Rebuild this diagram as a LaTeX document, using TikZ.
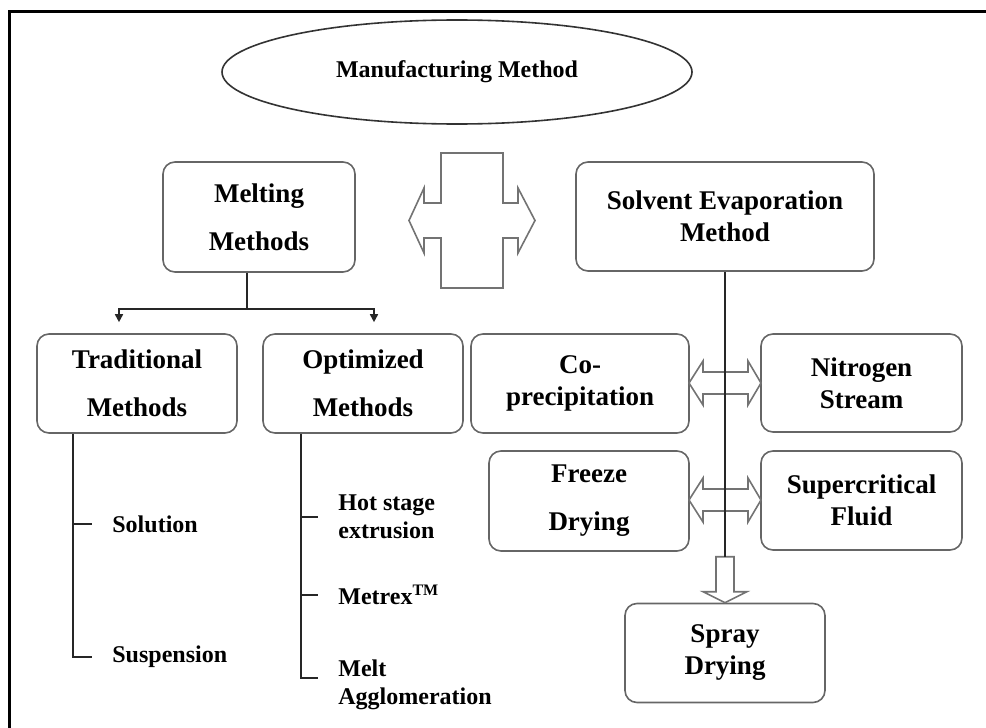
\documentclass[tikz,border=0pt]{standalone}
\usepackage{fontspec}
\setmainfont{Liberation Serif}
\usetikzlibrary{shapes,calc,arrows.meta}

\begin{document}
\begin{tikzpicture}[x=0.5pt,y=-0.5pt,
	box/.style={draw=black!60, line width=0.8pt, rounded corners=6pt, align=center, inner sep=0pt, font=\bfseries\fontsize{13.5}{24}\selectfont},
	tbox/.style={box, font=\bfseries\fontsize{13.5}{16}\selectfont},
	ell/.style={ellipse, draw=black!80, line width=0.8pt, minimum width=235pt, minimum height=52pt, font=\bfseries\fontsize{12}{14}\selectfont},
	leaf/.style={anchor=west, inner sep=0pt, align=left, font=\bfseries\fontsize{12}{14}\selectfont},
	stem/.style={black!85, line width=0.8pt},
	tick/.style={stem, shorten >=10pt},
	hollow/.style={draw=black!55, fill=white, line width=0.8pt},
	tip/.style={stem, -{Triangle[length=4pt,width=4pt]}}]
		\useasboundingbox (0,0) rectangle (986,728);
		\draw[line width=1.5pt] (9.5,728) -- (9.5,11) -- (986,11);

		\node[ell] (manu) at (457,72) {Manufacturing Method};

		\node[box, minimum width=96pt, minimum height=55pt] (melt) at (259,217) {Melting\\Methods};
		\node[tbox, minimum width=149pt, minimum height=54.5pt] (solv) at (725,216.5) {Solvent Evaporation\\Method};

		% cross shaped double arrow
		\draw[hollow] (441,153) -- (503,153) -- (503,203) -- (518,203) -- (518,188) -- (535,220.5)
			-- (518,253) -- (518,238) -- (503,238) -- (503,288) -- (441,288) -- (441,238)
			-- (424,238) -- (424,253) -- (409,220.5) -- (424,188) -- (424,203) -- (441,203) -- cycle;

		\node[box, minimum width=100pt, minimum height=49.5pt] (trad) at (137,383.5) {Traditional\\Methods};
		\node[box, minimum width=100pt, minimum height=49.5pt] (opt) at (363,383.5) {Optimized\\Methods};

		\coordinate (fork) at ($(melt.south)+(-12,36)$);
		\coordinate (ta) at ($(trad.north)+(-18,-11)$);
		\coordinate (oa) at ($(opt.north)+(11,-11)$);
		\draw[stem] ($(melt.south)+(-12,0)$) -- (fork);
		\draw[tip] (fork) -| (ta);
		\draw[tip] (fork) -| (oa);

		\node[tbox, minimum width=109pt, minimum height=49.5pt] (copre) at (580,383.5) {Co-\\precipitation};
		\node[tbox, minimum width=100.5pt, minimum height=49pt] (nitro) at (861.5,383) {Nitrogen\\Stream};
		\node[box, minimum width=100pt, minimum height=50pt] (freeze) at (589,501) {Freeze\\Drying};
		\node[tbox, minimum width=100.5pt, minimum height=49.5pt] (super) at (861.5,500.5) {Supercritical\\Fluid};
		\node[tbox, minimum width=100pt, minimum height=49.5pt] (spray) at (725,653) {Spray\\Drying};

		% hollow arrows on the solvent side
		\foreach \y in {383,500}
			\draw[hollow] (689,\y) -- (703,\y-22) -- (703,\y-11) -- (748,\y-11) -- (748,\y-22) -- (761,\y)
				-- (748,\y+22) -- (748,\y+11) -- (703,\y+11) -- (703,\y+22) -- cycle;
		\draw[hollow] (spray.north) -- ++(-22,-11) -- ++(13,0) -- ++(0,-35) -- ++(18,0) -- ++(0,35) -- ++(13,0) -- cycle;
		\coordinate (dtop) at ($(spray.north)+(0,-46)$);
		\draw[stem] (solv.south) -- (dtop);

		% leaves
		\node[leaf] (soln) at (112,524) {Solution};
		\node[leaf] (susp) at (112,657) {Suspension};
		\node[leaf] (hot) at (338,517) {Hot stage\\extrusion};
		\node[leaf] (metrex) at (338,595) {Metrex\textsuperscript{TM}};
		\node[leaf] (agglo) at (338,685) {Melt\\Agglomeration};

		\coordinate (tl) at ($(trad.south)+(-64,0)$);
		\coordinate (ol) at ($(opt.south)+(-62,0)$);
		\draw[tick] (tl) |- (susp.west);
		\draw[tick] (soln.west -| tl) -- (soln.west);
		\draw[tick] (ol) |- ($(agglo.west)+(0,-7)$);
		\foreach \n in {hot,metrex}
			\draw[tick] (\n.west -| ol) -- (\n.west);
	\end{tikzpicture}
\end{document}
